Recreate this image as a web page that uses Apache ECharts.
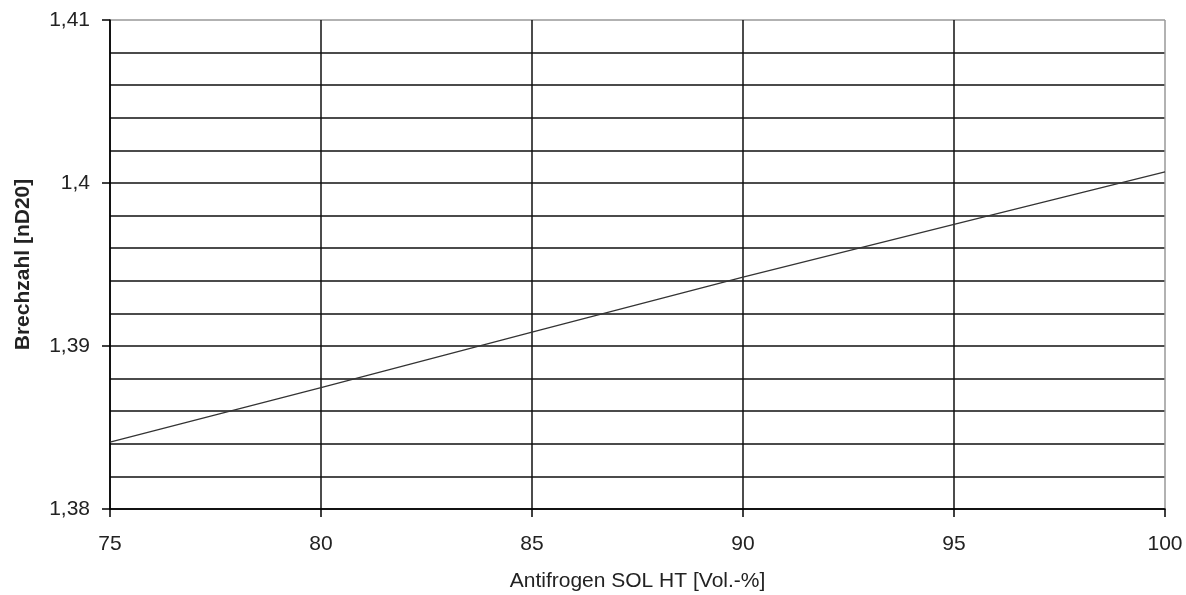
<!DOCTYPE html>
<html>
<head>
<meta charset="utf-8">
<script src="https://cdn.jsdelivr.net/npm/echarts@6/dist/echarts.min.js"></script>
<style>html,body{margin:0;padding:0;background:#fff}#c{width:1186px;height:595px}</style>
</head>
<body>
<div id="c"></div>
<script>
const volPercent = [75, 80, 85, 90, 95, 100];
const refractiveIndex = [1.3841, 1.38745, 1.39085, 1.39423, 1.39746, 1.40068];
const xAxisTitle = 'Antifrogen SOL HT [Vol.-%]';
const yAxisTitle = 'Brechzahl [nD20]';

const chart = echarts.init(document.getElementById('c'), null, {renderer: 'canvas'});
const font = 'Liberation Sans, Arial, sans-serif';
function fmtY(v) {
  let s = (Math.round(v * 1000) / 1000).toFixed(2).replace(/0+$/, '').replace(/\.$/, '');
  return s.replace('.', ',');
}
chart.setOption({
  animation: false,
  backgroundColor: '#fff',
  grid: {left: 110, right: 21, top: 20, bottom: 86, containLabel: false, outerBoundsMode: 'none'},
  xAxis: {
    type: 'value', min: 75, max: 100, interval: 5,
    name: xAxisTitle, nameLocation: 'middle', nameGap: 62,
    nameTextStyle: {fontFamily: font, fontSize: 21, color: '#222'},
    axisLine: {show: true, onZero: false, lineStyle: {color: '#000', width: 1.5}},
    axisTick: {show: true, length: 8, lineStyle: {color: '#000', width: 1.5}},
    axisLabel: {fontFamily: font, fontSize: 21, color: '#222', margin: 25},
    splitLine: {show: true, lineStyle: {color: ['#111','#111','#111','#111','#111','#999'], width: 1.5}}
  },
  yAxis: {
    type: 'value', min: 1.38, max: 1.41, interval: 0.01,
    name: yAxisTitle, nameLocation: 'middle', nameGap: 76,
    nameTextStyle: {fontFamily: font, fontSize: 21, fontWeight: 'bold', color: '#222'},
    axisLine: {show: true, lineStyle: {color: '#000', width: 1.5}},
    axisTick: {show: true, length: 8, lineStyle: {color: '#000', width: 1.5}},
    axisLabel: {fontFamily: font, fontSize: 21, color: '#222', margin: 20, formatter: fmtY, padding: [4, 0, 0, 0]},
    splitLine: {show: true, lineStyle: {color: ['#111','#111','#111','#999'], width: 1.5}},
    minorTick: {show: false, splitNumber: 5},
    minorSplitLine: {show: true, lineStyle: {color: '#111', width: 1.5}}
  },
  series: [{
    type: 'line',
    data: volPercent.map((x, i) => [x, refractiveIndex[i]]),
    showSymbol: false,
    lineStyle: {color: '#333', width: 1.2}
  }]
});
</script>
</body>
</html>
